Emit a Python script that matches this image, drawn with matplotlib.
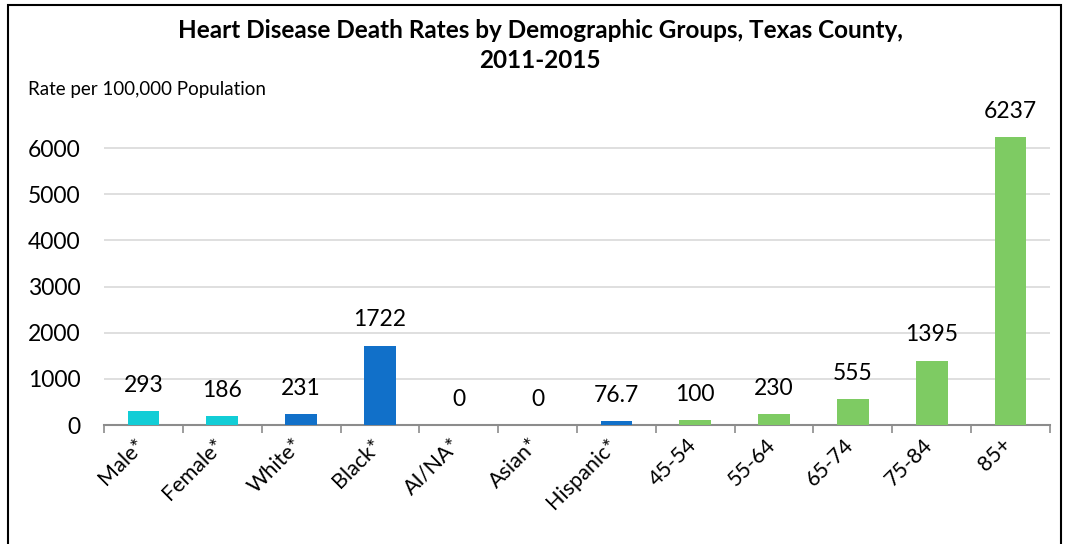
import matplotlib.pyplot as plt
import matplotlib.patches as patches
import matplotlib.transforms as mtransforms

categories = ['Male*', 'Female*', 'White*', 'Black*', 'AI/NA*', 'Asian*', 'Hispanic*',
              '45-54', '55-64', '65-74', '75-84', '85+']
rates = [293, 186, 231, 1722, 0, 0, 76.7, 100, 230, 555, 1395, 6237]
labels = ['293', '186', '231', '1722', '0', '0', '76.7', '100', '230', '555', '1395', '6237']
groups = ['sex', 'sex', 'race', 'race', 'race', 'race', 'race',
          'age', 'age', 'age', 'age', 'age']

group_colors = {'sex': '#12cdd6', 'race': '#1170c9', 'age': '#7ecb63'}

plt.rcParams['font.family'] = ['Lato', 'DejaVu Sans']

W, H = 1068, 544
fig = plt.figure(figsize=(W / 100, H / 100), dpi=100)

# outer frame
fig.patches.append(patches.Rectangle((8 / W, -0.01), (1061 - 8) / W, (H - 5) / H + 0.01,
                                     transform=fig.transFigure, fill=False,
                                     edgecolor='black', linewidth=1.5))

ax = fig.add_axes([104 / W, 1 - 425 / H, (1050 - 104) / W, (425 - 102) / H])

x = list(range(len(categories)))
colors = [group_colors[g] for g in groups]
ax.bar(x, rates, width=0.4, color=colors, zorder=3)

for xi, v, lab in zip(x, rates, labels):
    ax.annotate(lab, (xi, v), xytext=(0, 11), textcoords='offset points',
                ha='center', va='bottom', fontsize=16.5)

ax.set_xlim(-0.5, len(categories) - 0.5)
ax.set_ylim(0, 7000)
ax.set_yticks(range(0, 7000, 1000))
ax.tick_params(axis='y', length=0, labelsize=16.5, pad=17)
for g in range(1000, 7000, 1000):
    ax.axhline(g, color='#d9d9d9', linewidth=1.2, zorder=1)

ax.set_xticks([i - 0.5 for i in range(len(categories) + 1)], minor=False)
ax.set_xticklabels([])
ax.tick_params(axis='x', which='major', length=6, color='#8c8c8c', width=1.2)
ax.set_xticks(x, minor=True)
ax.set_xticklabels(categories, minor=True, rotation=45, ha='right',
                   rotation_mode='anchor', fontsize=15.5)
ax.tick_params(axis='x', which='minor', length=0, pad=7)
shift = mtransforms.ScaledTranslation(-9 / 100, 0, fig.dpi_scale_trans)
for t in ax.get_xticklabels(minor=True):
    t.set_transform(t.get_transform() + shift)

for s in ['top', 'right', 'left']:
    ax.spines[s].set_visible(False)
ax.spines['bottom'].set_color('#8c8c8c')
ax.spines['bottom'].set_linewidth(1.5)

fig.text(540 / W, 1 - 30 / H, 'Heart Disease Death Rates by Demographic Groups, Texas County,',
         ha='center', va='center', fontsize=17.5, fontweight='bold')
fig.text(540 / W, 1 - 60 / H, '2011-2015', ha='center', va='center',
         fontsize=17.5, fontweight='bold')
fig.text(28 / W, 1 - 90 / H, 'Rate per 100,000 Population', ha='left', va='center', fontsize=13.5)

fig.savefig('out.png', dpi=100)
